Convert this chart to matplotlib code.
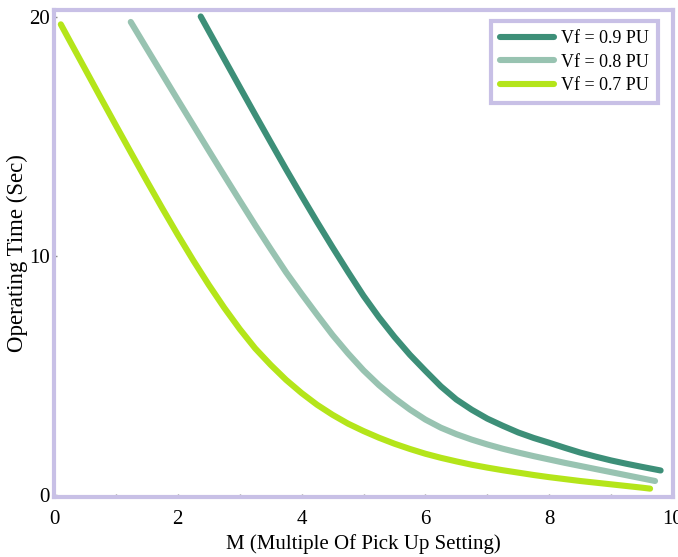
import matplotlib
matplotlib.use("Agg")
import matplotlib.pyplot as plt

# values
m_09 = [2.37, 2.5, 2.75, 3.0, 3.25, 3.5, 3.75, 4.0, 4.25, 4.5, 4.75, 5.0, 5.25, 5.5, 5.75,
		6.0, 6.25, 6.5, 6.75, 7.0, 7.25, 7.5, 7.75, 8.0, 8.25, 8.5, 8.75, 9.0, 9.25, 9.5, 9.8]
t_09 = [20.03, 19.42, 18.25, 17.08, 15.92, 14.77, 13.63, 12.52, 11.43, 10.37, 9.34, 8.34, 7.44, 6.62, 5.87,
		5.2, 4.55, 4.0, 3.57, 3.2, 2.9, 2.62, 2.39, 2.19, 1.98, 1.78, 1.61, 1.45, 1.31, 1.18, 1.03]

m_08 = [1.24, 1.5, 1.75, 2.0, 2.25, 2.5, 2.75, 3.0, 3.25, 3.5, 3.75, 4.0, 4.25, 4.5, 4.75, 5.0, 5.25, 5.5,
		5.75, 6.0, 6.25, 6.5, 6.75, 7.0, 7.25, 7.5, 7.75, 8.0, 8.25, 8.5, 8.75, 9.0, 9.25, 9.5, 9.71]
t_08 = [19.8, 18.68, 17.61, 16.54, 15.48, 14.42, 13.37, 12.33, 11.3, 10.3, 9.32, 8.42, 7.55, 6.7, 5.93, 5.22, 4.6, 4.06,
		3.58, 3.16, 2.82, 2.55, 2.32, 2.12, 1.94, 1.78, 1.63, 1.49, 1.35, 1.22, 1.09, 0.96, 0.83, 0.7, 0.59]

m_07 = [0.11, 0.25, 0.5, 0.75, 1.0, 1.25, 1.5, 1.75, 2.0, 2.25, 2.5, 2.75, 3.0, 3.25, 3.5, 3.75, 4.0, 4.25, 4.5,
		4.75, 5.0, 5.25, 5.5, 5.75, 6.0, 6.25, 6.5, 6.75, 7.0, 7.25, 7.5, 7.75, 8.0, 8.25, 8.5, 8.75, 9.0, 9.25, 9.5, 9.63]
t_07 = [19.7, 19.03, 17.84, 16.65, 15.47, 14.3, 13.14, 12.0, 10.89, 9.82, 8.8, 7.84, 6.95, 6.14, 5.45, 4.82, 4.27, 3.78, 3.36,
		2.99, 2.68, 2.4, 2.15, 1.93, 1.73, 1.56, 1.41, 1.27, 1.15, 1.04, 0.94, 0.84, 0.75, 0.67, 0.59, 0.52, 0.45, 0.38, 0.31, 0.27]

series = [
	("Vf = 0.9 PU", m_09, t_09, "#3d8f78"),
	("Vf = 0.8 PU", m_08, t_08, "#98c3b1"),
	("Vf = 0.7 PU", m_07, t_07, "#b4e51a"),
]

frame_color = "#c8c0e6"
plt.rcParams["font.family"] = ["Liberation Serif", "DejaVu Serif"]

fig = plt.figure(figsize=(6.78, 5.57), dpi=100)
ax = fig.add_axes([54 / 678, 60 / 557, 619 / 678, 487 / 557])

for label, m, t, color in series:
	ax.plot(m, t, color=color, linewidth=4.4, solid_capstyle="round", solid_joinstyle="round", label=label)

ax.set_xlim(0, 10)
ax.set_ylim(-0.08, 20.3)
ax.set_xticks([0, 2, 4, 6, 8, 10])
ax.set_xticks(range(1, 10, 2), minor=True)
ax.set_yticks([0, 10, 20])
ax.tick_params(axis="both", which="both", direction="in", length=2, width=1, color="#888888", labelsize=15)
ax.tick_params(axis="x", pad=9)
ax.tick_params(axis="y", pad=3)

for sp in ax.spines.values():
	sp.set_color(frame_color)
	sp.set_linewidth(3)

ax.set_xlabel("M (Multiple Of Pick Up Setting)", fontsize=15, labelpad=4)
ax.set_ylabel("Operating Time (Sec)", fontsize=16.5, labelpad=1)

leg = ax.legend(loc="upper right", bbox_to_anchor=(0.976, 0.977), borderaxespad=0, fontsize=13,
				handlelength=3.0, handletextpad=0.4, borderpad=0.5, labelspacing=0.35,
				fancybox=False, framealpha=1)
leg.get_frame().set_edgecolor(frame_color)
leg.get_frame().set_linewidth(3)

fig.savefig("out.png", dpi=100)
